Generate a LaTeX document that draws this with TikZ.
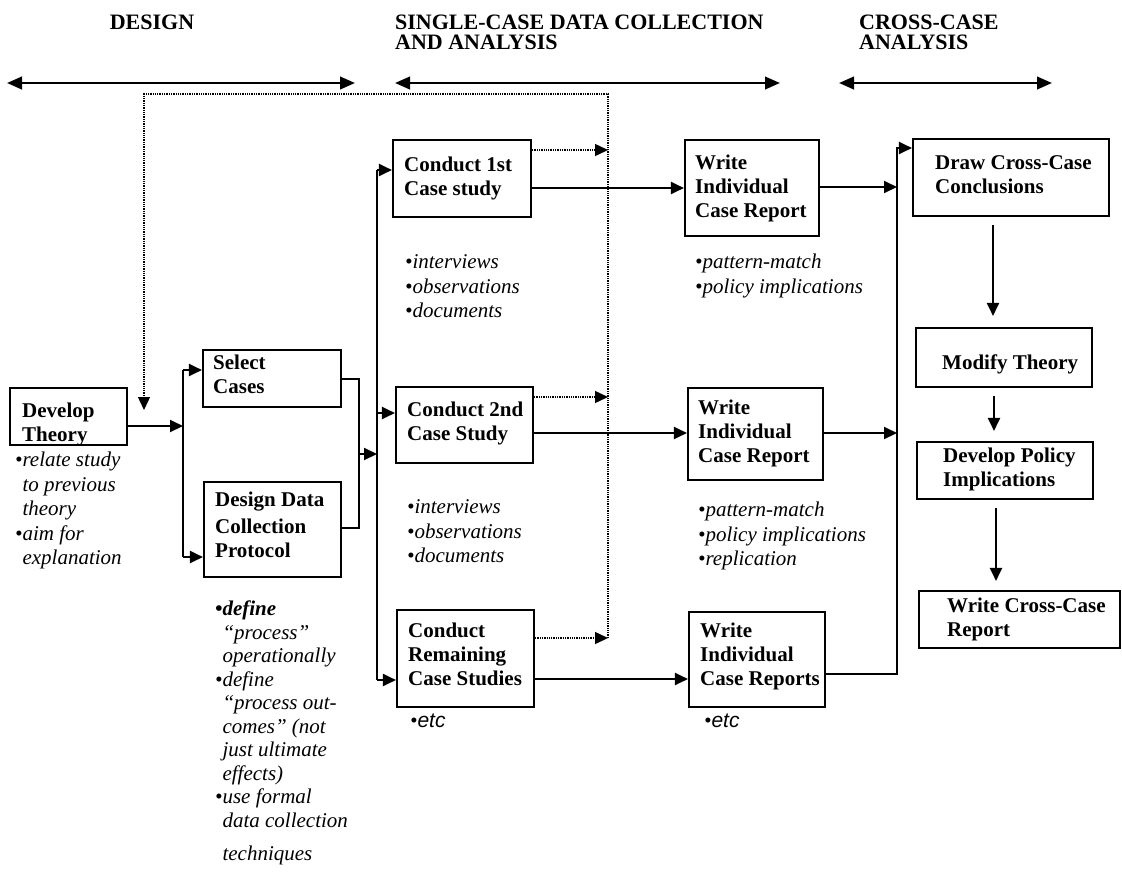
\documentclass[tikz,border=0pt]{standalone}
\usepackage{fontspec}
\setmainfont{Liberation Serif}
\newfontfamily\etcfont{Liberation Sans}
\usetikzlibrary{arrows.meta}
\begin{document}
\begin{tikzpicture}[x=1pt,y=-1pt,
  box/.style={draw, line width=2.1pt, inner sep=0pt},
  boxtext/.style={anchor=north west, inner sep=0pt, align=left,
    font=\fontsize{21}{24}\selectfont\bfseries, execute at begin node=\strut},
  notetext/.style={anchor=north west, inner sep=0pt, align=left,
    font=\fontsize{21}{24.5}\selectfont\itshape, execute at begin node=\strut},
  headtext/.style={inner sep=0pt, align=left,
    font=\fontsize{22}{20.5}\selectfont\bfseries, execute at begin node=\strut},
  wire/.style={line width=2pt},
  conn/.style={line width=2pt, -{Triangle[length=13pt,width=12pt]}},
  dots/.style={line width=1.4pt, dash pattern=on 1.3pt off 1pt},
  dotconn/.style={dots, -{Triangle[length=13pt,width=12pt]}},
  phase/.style={line width=2.5pt, {Triangle[length=15pt,width=12.5pt]}-{Triangle[length=15pt,width=12.5pt]}}
]
\useasboundingbox (0,0) rectangle (1122,879);

% ---------- phase headings ----------
\node[headtext, anchor=north] (hdDesign) at (152,14.3) {DESIGN};
\node[headtext, anchor=north west] (hdSingle) at (395,14.3) {SINGLE-CASE DATA COLLECTION\\AND ANALYSIS};
\node[headtext, anchor=north west] (hdCross) at (859,14.3) {CROSS-CASE\\ANALYSIS};

\coordinate (pA1) at (7,83);   \coordinate (pA2) at (355,83);
\coordinate (pB1) at (395,83); \coordinate (pB2) at (780,83);
\coordinate (pC1) at (839,83); \coordinate (pC2) at (1052,83);
\draw[phase] (pA1) -- (pA2);
\draw[phase] (pB1) -- (pB2);
\draw[phase] (pC1) -- (pC2);

% ---------- design stage ----------
\node[box, minimum width=117pt, minimum height=57pt] (devt) at (68.5,416.5) {};
\node[boxtext] (devtT) at (22,403.2) {Develop\\Theory};
\node[notetext] (devtN) at (15,451.85) {\textbullet relate study\\\hphantom{\textbullet}to previous\\\hphantom{\textbullet}theory\\\textbullet aim for\\\hphantom{\textbullet}explanation};

\node[box, minimum width=138pt, minimum height=57pt] (selc) at (272,378.5) {};
\node[boxtext] (selcT) at (213,355.2) {Select\\Cases};

\node[box, minimum width=137pt, minimum height=95pt] (ddcp) at (272.5,529.5) {};
\node[boxtext] (ddcpT) at (215,492.2) {Design Data\\[3pt]Collection\\Protocol};
\node[notetext, font=\fontsize{21}{23.5}\selectfont\itshape] (ddcpN) at (215,600.55)
  {\textbf{\textbullet define}\\\hphantom{\textbullet}“process”\\\hphantom{\textbullet}operationally\\\textbullet define\\\hphantom{\textbullet}“process out-\\\hphantom{\textbullet}comes” (not\\\hphantom{\textbullet}just ultimate\\\hphantom{\textbullet}effects)\\\textbullet use formal\\\hphantom{\textbullet}data collection\\[9.5pt]\hphantom{\textbullet}techniques};

% ---------- single-case stage ----------
\node[box, minimum width=138pt, minimum height=77pt] (c1) at (462,178.5) {};
\node[boxtext] (c1T) at (404,157.2) {Conduct 1st\\Case study};
\node[notetext] (c1N) at (405,254.85) {\textbullet interviews\\\textbullet observations\\\textbullet documents};

\node[box, minimum width=137pt, minimum height=76pt] (c2) at (464.5,425) {};
\node[boxtext] (c2T) at (407,402.2) {Conduct 2nd\\Case Study};
\node[notetext] (c2N) at (407,499.85) {\textbullet interviews\\\textbullet observations\\\textbullet documents};

\node[box, minimum width=137pt, minimum height=97pt] (cr) at (465.5,658.5) {};
\node[boxtext] (crT) at (408,623.2) {Conduct\\Remaining\\Case Studies};
\node[notetext] (crN) at (410,709.85) {\textbullet{\etcfont\itshape etc}};

\node[box, minimum width=134pt, minimum height=96pt] (w1) at (752,188) {};
\node[boxtext] (w1T) at (695,155.2) {Write\\Individual\\Case Report};
\node[notetext] (w1N) at (695,253.85) {\textbullet pattern-match\\\textbullet policy implications};

\node[box, minimum width=135pt, minimum height=92pt] (w2) at (755.5,434) {};
\node[boxtext] (w2T) at (698,400.2) {Write\\Individual\\Case Report};
\node[notetext] (w2N) at (698,501.85) {\textbullet pattern-match\\\textbullet policy implications\\\textbullet replication};

\node[box, minimum width=136pt, minimum height=95pt] (wr) at (757,659.5) {};
\node[boxtext] (wrT) at (700,623.2) {Write\\Individual\\Case Reports};
\node[notetext] (wrN) at (704,709.85) {\textbullet{\etcfont\itshape etc}};

% ---------- cross-case stage ----------
\node[box, minimum width=196pt, minimum height=77pt] (draw) at (1011,177.5) {};
\node[boxtext] (drawT) at (935,155.2) {Draw Cross-Case\\Conclusions};

\node[box, minimum width=176pt, minimum height=59pt] (mod) at (1004,357.5) {};
\node[boxtext] (modT) at (942,352.2) {Modify Theory};

\node[box, minimum width=176pt, minimum height=57pt] (dpi) at (1005,470.5) {};
\node[boxtext] (dpiT) at (943,448.2) {Develop Policy\\Implications};

\node[box, minimum width=201pt, minimum height=57pt] (wcc) at (1019.5,619.5) {};
\node[boxtext] (wccT) at (947,598.2) {Write Cross-Case\\Report};

% ---------- design connectors ----------
\coordinate (sT) at (183,370);
\coordinate (sM) at (183,426);
\coordinate (sB) at (183,557);
\draw[wire] (sT) -- (sB);
\draw[conn] (devt.east |- sM) -- (sM);
\draw[conn] (sT) -- (selc.west |- sT);
\draw[conn] (sB) -- (ddcp.west |- sB);

\coordinate (mT) at (359,379);
\coordinate (mB) at (359,528);
\coordinate (mM) at (359,454);
\coordinate (bM) at (377,454);
\draw[wire] (selc.east |- mT) -- (mT) -- (mB) -- (ddcp.east |- mB);
\draw[conn] (mM) -- (bM);

% ---------- case bus ----------
\coordinate (bT) at (377,170);
\coordinate (b2) at (377,413);
\coordinate (bB) at (377,680);
\draw[wire] (bT) -- (bB);
\draw[conn] (bT) -- (c1.west |- bT);
\draw[conn] (b2) -- (c2.west |- b2);
\draw[conn] (bB) -- (cr.west |- bB);

% ---------- case study to report ----------
\coordinate (r1) at (0,188);
\coordinate (r2) at (0,433);
\coordinate (r3) at (0,679);
\draw[conn] (c1.east |- r1) -- (w1.west |- r1);
\draw[conn] (c2.east |- r2) -- (w2.west |- r2);
\draw[conn] (cr.east |- r3) -- (wr.west |- r3);

% ---------- feedback loop (dotted) ----------
\coordinate (d1) at (608,150);
\coordinate (d2) at (608,397);
\coordinate (d3) at (608,638);
\coordinate (dT) at (608,94);
\coordinate (dL) at (144,94);
\coordinate (dE) at (144,410);
\draw[dotconn] (c1.east |- d1) -- (d1);
\draw[dotconn] (c2.east |- d2) -- (d2);
\draw[dotconn] (cr.east |- d3) -- (d3);
\draw[dotconn] (d3) -- (dT) -- (dL) -- (dE);

% ---------- reports to cross-case ----------
\coordinate (R1) at (897,187);
\coordinate (R2) at (897,433);
\coordinate (R3) at (897,674);
\coordinate (RT) at (897,148);
\draw[conn] (w1.east |- R1) -- (R1);
\draw[conn] (w2.east |- R2) -- (R2);
\draw[conn] (wr.east |- R3) -- (R3) -- (RT) -- (draw.west |- RT);

\coordinate (v1) at (993,0);
\coordinate (v2) at (994,0);
\coordinate (v3) at (996,0);
\draw[conn, shorten <=8pt, shorten >=11pt] (draw.south -| v1) -- (mod.north -| v1);
\draw[conn, shorten <=8pt, shorten >=10pt] (mod.south -| v2) -- (dpi.north -| v2);
\draw[conn, shorten <=8pt, shorten >=9pt] (dpi.south -| v3) -- (wcc.north -| v3);
\end{tikzpicture}
\end{document}
